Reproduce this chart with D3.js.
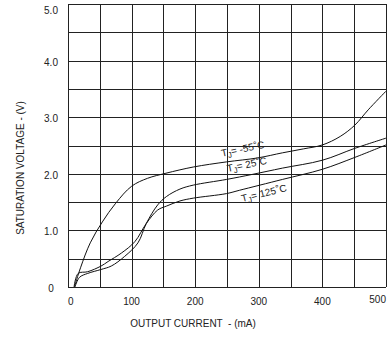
<html>
<head>
<style>
  body { margin: 0; background: #fff; }
  text { font-family: "Liberation Sans", Arial, sans-serif; fill: #222; }
  .grid line { stroke: #222; stroke-width: 1px; shape-rendering: crispEdges; }
  .curve { fill: none; stroke: #111; stroke-width: 1px; }
</style>
</head>
<body>
<svg id="chart" width="392" height="337"></svg>
<script src="https://cdn.jsdelivr.net/npm/d3@7"></script>
<script>
// output current (mA) / saturation voltage (V)
const iMinus55 = [10, 20, 35, 54, 75, 100, 125, 154, 197, 249, 298, 337, 370, 400, 428, 451, 472, 500]
const vMinus55 = [0, 0.35, 0.78, 1.15, 1.48, 1.78, 1.92, 2.01, 2.12, 2.21, 2.28, 2.37, 2.44, 2.51, 2.66, 2.86, 3.13, 3.46]

const i25 = [11, 18, 31, 52, 68, 89, 110, 123, 141, 155, 176, 197, 249, 290, 337, 400, 451, 500]
const v25 = [0, 0.17, 0.24, 0.31, 0.37, 0.54, 0.78, 1.12, 1.45, 1.6, 1.73, 1.8, 1.9, 1.99, 2.1, 2.24, 2.45, 2.63]

const i125 = [9.5, 16, 31, 52, 63, 84, 105, 123, 141, 155, 176, 197, 249, 270, 337, 400, 451, 500]
const v125 = [0, 0.24, 0.27, 0.37, 0.45, 0.6, 0.8, 1.12, 1.36, 1.43, 1.52, 1.57, 1.65, 1.71, 1.9, 2.08, 2.29, 2.51]

const seriesTemps = ["-55", "25", "125"]
const xTicks = [0, 100, 200, 300, 400, 500]
const yTicks = [0, 1, 2, 3, 4, 5]
const xGrid = d3.range(0, 501, 50)
const yGrid = d3.range(0, 5.01, 0.5)

let svg = d3.select("#chart")

let xScale = d3.scaleLinear().domain([0, 500]).range([68, 386])
let yScale = d3.scaleLinear().domain([0, 5]).range([287, 4])

// grid
let grid = svg.append("g").attr("class", "grid")
grid.selectAll(".v").data(xGrid).enter().append("line")
    .attr("x1", d => Math.round(xScale(d)) + 0.5).attr("x2", d => Math.round(xScale(d)) + 0.5)
    .attr("y1", yScale(5)).attr("y2", yScale(0))
grid.selectAll(".h").data(yGrid).enter().append("line")
    .attr("y1", d => Math.round(yScale(d)) + 0.5).attr("y2", d => Math.round(yScale(d)) + 0.5)
    .attr("x1", xScale(0)).attr("x2", xScale(500))

// tick labels
svg.append("g").selectAll("text").data(yTicks).enter().append("text")
    .attr("x", 51)
    .attr("y", d => Math.max(yScale(d) + 1.5, 10))
    .attr("dy", "0.35em")
    .attr("text-anchor", "middle")
    .attr("font-size", 10)
    .text(d => d == 0 ? "0" : d3.format(".1f")(d))

svg.append("g").selectAll("text").data(xTicks).enter().append("text")
    .attr("x", d => xScale(d))
    .attr("y", d => d == 500 ? 299 : 301.5)
    .attr("dy", "0.35em")
    .attr("text-anchor", d => d == 0 ? "start" : d == 500 ? "end" : "middle")
    .attr("font-size", 10)
    .text(d => d)

// axis titles
svg.append("text")
    .attr("x", 193).attr("y", 323).attr("dy", "0.35em")
    .attr("text-anchor", "middle").attr("font-size", 10)
    .text("OUTPUT CURRENT \u00a0- (mA)")

svg.append("text")
    .attr("transform", "translate(20,168) rotate(-90)")
    .attr("dy", "0.35em")
    .attr("text-anchor", "middle").attr("font-size", 10)
    .text("SATURATION VOLTAGE - (V)")

// curves
let series = [
    d3.zip(iMinus55, vMinus55),
    d3.zip(i25, v25),
    d3.zip(i125, v125)
]

let valueline = d3.line()
    .curve(d3.curveCatmullRom.alpha(0.5))
    .x(d => xScale(d[0]))
    .y(d => yScale(d[1]))

svg.append("g").selectAll("path").data(series).enter().append("path")
    .attr("class", "curve")
    .attr("d", valueline)

// curve labels: anchor in data units, rotation in degrees
let labelPos = [[242, 2.30, -12], [251, 2.03, -12], [274, 1.50, -14]]

seriesTemps.forEach((t, k) => {
    let p = labelPos[k]
    let txt = svg.append("text")
        .attr("transform", `translate(${xScale(p[0])},${yScale(p[1])}) rotate(${p[2]})`)
        .attr("font-size", 10)
    txt.append("tspan").text("T")
    txt.append("tspan").attr("dy", 2.5).attr("font-size", 8).text("J")
    txt.append("tspan").attr("dy", -2.5).text("= " + t)
    txt.append("tspan").attr("dy", -2).attr("font-size", 9).text("°")
    txt.append("tspan").attr("dy", 2).text("C")
})
</script>
</body>
</html>
